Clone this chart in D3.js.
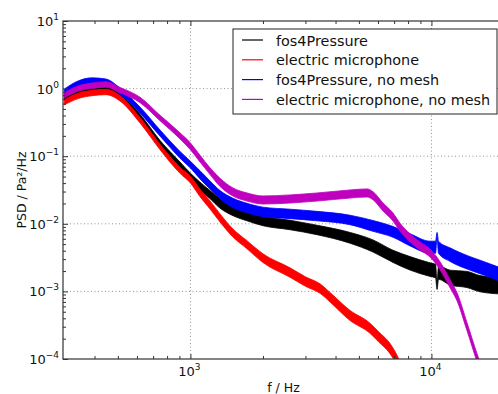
<!DOCTYPE html>
<html>
<head>
<meta charset="utf-8">
<script src="https://cdn.jsdelivr.net/npm/d3@7"></script>
<style>
  body { margin: 0; background: #fff; }
  text { font-family: "DejaVu Sans", sans-serif; fill: #111; }
</style>
</head>
<body>
<svg id="chart" width="498" height="394"></svg>
<script>
// series labels and colours (matplotlib k, r, b, m)
const seriesNames = ["fos4Pressure", "electric microphone", "fos4Pressure, no mesh", "electric microphone, no mesh"];
const seriesColors = ["#000000", "#ff0000", "#0000ff", "#bf00bf"];

// fos4Pressure: frequency (Hz), PSD (Pa²/Hz), noise half-width (decades)
const fosFreq = [300, 342, 390, 446, 510, 618, 748, 905, 1000, 1096, 1206, 1327, 1502, 1717, 2000, 2590, 3352, 4595, 5722, 6927, 8150, 9865, 10400, 10550, 10700, 11944, 14050, 15910, 20000];
const fosPsd = [0.75, 0.89, 1.0, 0.99, 0.75, 0.38, 0.156, 0.074, 0.05, 0.036, 0.027, 0.02, 0.0155, 0.013, 0.011, 0.0096, 0.0081, 0.0062, 0.0047, 0.0033, 0.0026, 0.0021, 0.002, 0.0012, 0.0019, 0.0016, 0.0015, 0.0013, 0.0012];
const fosNoise = [0.04, 0.04, 0.04, 0.04, 0.04, 0.04, 0.04, 0.045, 0.05, 0.06, 0.06, 0.07, 0.07, 0.07, 0.07, 0.07, 0.07, 0.08, 0.09, 0.09, 0.1, 0.1, 0.1, 0.05, 0.1, 0.11, 0.12, 0.12, 0.12];

// electric microphone
const micFreq = [300, 342, 390, 446, 510, 618, 748, 905, 1000, 1096, 1206, 1327, 1502, 1717, 2000, 2590, 3000, 3450, 3795, 4595, 5530, 6060, 6660, 7110, 7500];
const micPsd = [0.63, 0.78, 0.86, 0.89, 0.72, 0.34, 0.137, 0.062, 0.045, 0.0286, 0.019, 0.0122, 0.0073, 0.0049, 0.0031, 0.0019, 0.0014, 0.0011, 0.00082, 0.00044, 0.00029, 0.00021, 0.00015, 0.000104, 0.00007];
const micNoise = [0.04, 0.04, 0.04, 0.04, 0.04, 0.04, 0.04, 0.045, 0.05, 0.055, 0.06, 0.06, 0.06, 0.06, 0.065, 0.07, 0.07, 0.07, 0.07, 0.075, 0.075, 0.075, 0.075, 0.075, 0.075];

// fos4Pressure, no mesh
const fosNmFreq = [300, 342, 390, 446, 510, 618, 748, 905, 1000, 1096, 1206, 1327, 1502, 1717, 2000, 2590, 3352, 4595, 5722, 6927, 8150, 9865, 10400, 10550, 10700, 11944, 14050, 15910, 20000];
const fosNmPsd = [0.89, 1.17, 1.3, 1.25, 0.92, 0.48, 0.22, 0.105, 0.075, 0.053, 0.0375, 0.027, 0.0203, 0.0171, 0.015, 0.014, 0.013, 0.0114, 0.0093, 0.0076, 0.0058, 0.0045, 0.0045, 0.0068, 0.0045, 0.0035, 0.0027, 0.0023, 0.0017];
const fosNmNoise = [0.045, 0.045, 0.045, 0.045, 0.045, 0.045, 0.045, 0.05, 0.05, 0.06, 0.06, 0.06, 0.07, 0.07, 0.07, 0.07, 0.07, 0.07, 0.08, 0.08, 0.09, 0.09, 0.09, 0.04, 0.09, 0.1, 0.1, 0.1, 0.1];

// electric microphone, no mesh
const micNmFreq = [300, 342, 390, 446, 510, 618, 748, 905, 1000, 1096, 1206, 1327, 1502, 1717, 2000, 2590, 3352, 4595, 5404, 5722, 6297, 6927, 7406, 8150, 8968, 9865, 10854, 11944, 12771, 14050, 15460, 16220];
const micNmPsd = [0.80, 1.0, 1.1, 1.15, 0.95, 0.68, 0.367, 0.2, 0.14, 0.092, 0.06, 0.041, 0.0295, 0.0249, 0.0225, 0.0233, 0.0249, 0.0276, 0.0286, 0.026, 0.0177, 0.0126, 0.0089, 0.0062, 0.0047, 0.0037, 0.0024, 0.0013, 0.00083, 0.0003, 0.000104, 0.000064];
const micNmNoise = [0.04, 0.04, 0.04, 0.04, 0.04, 0.04, 0.04, 0.045, 0.05, 0.05, 0.05, 0.06, 0.06, 0.06, 0.06, 0.06, 0.06, 0.06, 0.06, 0.06, 0.06, 0.06, 0.06, 0.06, 0.06, 0.06, 0.06, 0.06, 0.06, 0.06, 0.06, 0.06];

// ticks
const xMajor = [1e3, 1e4];
const xMajorExp = ["3", "4"];
const xMinor = [400, 500, 600, 700, 800, 900, 2000, 3000, 4000, 5000, 6000, 7000, 8000, 9000, 20000];
const yMajor = [1e-4, 1e-3, 1e-2, 1e-1, 1e0, 1e1];
const yMajorExp = ["\u22124", "\u22123", "\u22122", "\u22121", "0", "1"];
const yMinor = [];
yMajor.slice(0, -1).forEach(d => [2, 3, 4, 5, 6, 7, 8, 9].forEach(k => yMinor.push(d * k)));

const plot = { left: 63, right: 504, top: 21, bottom: 359 };

const svg = d3.select("#chart");

const x = d3.scaleLog().domain([296, 20000]).range([plot.left, plot.right]);
const y = d3.scaleLog().domain([1e-4, 10]).range([plot.bottom, plot.top]);

svg.append("defs").append("clipPath").attr("id", "clip")
  .append("rect")
  .attr("x", plot.left).attr("y", plot.top)
  .attr("width", plot.right - plot.left).attr("height", plot.bottom - plot.top);

// grid
const grid = svg.append("g")
  .attr("stroke", "#777")
  .attr("stroke-width", 0.8)
  .attr("stroke-dasharray", "1,2.5");

grid.selectAll("line.gx")
  .data(xMajor)
  .enter()
  .append("line")
  .attr("x1", d => x(d)).attr("x2", d => x(d))
  .attr("y1", plot.top).attr("y2", plot.bottom);

grid.selectAll("line.gy")
  .data(yMajor.slice(1, -1))
  .enter()
  .append("line")
  .attr("x1", plot.left).attr("x2", plot.right)
  .attr("y1", d => y(d)).attr("y2", d => y(d));

// series bands
const series = [
  { f: fosFreq, v: fosPsd, n: fosNoise },
  { f: micFreq, v: micPsd, n: micNoise },
  { f: fosNmFreq, v: fosNmPsd, n: fosNmNoise },
  { f: micNmFreq, v: micNmPsd, n: micNmNoise }
];

const area = d3.area()
  .x(d => x(d.f))
  .y0(d => y(d.v / Math.pow(10, d.n)))
  .y1(d => y(d.v * Math.pow(10, d.n)))
  .curve(d3.curveMonotoneX);

const bands = svg.append("g").attr("clip-path", "url(#clip)");

series.forEach((s, i) => {
  const pts = s.f.map((f, j) => ({ f: f, v: s.v[j], n: s.n[j] }));
  bands.append("path")
    .datum(pts)
    .attr("d", area)
    .attr("fill", seriesColors[i])
    .attr("stroke", seriesColors[i])
    .attr("stroke-width", 0.8);
});

// ticks, pointing inwards on every side
function ticks(axis, values, size, transform) {
  svg.append("g")
    .attr("transform", transform)
    .call(axis.tickValues(values).tickSize(-size).tickFormat(""))
    .call(g => g.select(".domain").remove())
    .selectAll("line").attr("stroke", "#333");
}
ticks(d3.axisBottom(x), xMinor, 3, `translate(0,${plot.bottom})`);
ticks(d3.axisBottom(x), xMajor, 5, `translate(0,${plot.bottom})`);
ticks(d3.axisTop(x), xMinor, 3, `translate(0,${plot.top})`);
ticks(d3.axisTop(x), xMajor, 5, `translate(0,${plot.top})`);
ticks(d3.axisLeft(y), yMinor, 3, `translate(${plot.left},0)`);
ticks(d3.axisLeft(y), yMajor, 5, `translate(${plot.left},0)`);

// frame
svg.append("rect")
  .attr("x", plot.left).attr("y", plot.top)
  .attr("width", plot.right - plot.left).attr("height", plot.bottom - plot.top)
  .attr("fill", "none")
  .attr("stroke", "#333")
  .attr("stroke-width", 1.2);

// tick labels
svg.selectAll("text.xt")
  .data(xMajor)
  .enter()
  .append("text")
  .attr("x", d => x(d) - 1)
  .attr("y", plot.bottom + 17)
  .attr("text-anchor", "middle")
  .attr("font-size", 13)
  .each(function (d, i) {
    const t = d3.select(this);
    t.append("tspan").text("10");
    t.append("tspan").attr("font-size", 9).attr("dy", -6).text(xMajorExp[i]);
  });

svg.selectAll("text.yt")
  .data(yMajor)
  .enter()
  .append("text")
  .attr("x", plot.left - 4)
  .attr("y", d => y(d) + 5)
  .attr("text-anchor", "end")
  .attr("font-size", 13)
  .each(function (d, i) {
    const t = d3.select(this);
    t.append("tspan").text("10");
    t.append("tspan").attr("font-size", 9).attr("dy", -6).text(yMajorExp[i]);
  });

// axis labels
svg.append("text")
  .attr("x", (plot.left + plot.right) / 2)
  .attr("y", 392)
  .attr("text-anchor", "middle")
  .attr("font-size", 12.5)
  .text("f / Hz");

svg.append("text")
  .attr("transform", `translate(26,${(plot.top + plot.bottom) / 2}) rotate(-90)`)
  .attr("text-anchor", "middle")
  .attr("font-size", 12.5)
  .text("PSD / Pa\u00b2/Hz");

// legend
const legend = svg.append("g");
legend.append("rect")
  .attr("x", 233).attr("y", 29)
  .attr("width", 264).attr("height", 85)
  .attr("fill", "#fff")
  .attr("stroke", "#222")
  .attr("stroke-width", 1);

seriesNames.forEach((name, i) => {
  const ly = 40 + i * 19.8;
  legend.append("line")
    .attr("x1", 242).attr("x2", 263)
    .attr("y1", ly).attr("y2", ly)
    .attr("stroke", seriesColors[i])
    .attr("stroke-width", 1.2);
  legend.append("text")
    .attr("x", 276)
    .attr("y", ly + 5.5)
    .attr("font-size", 14.4)
    .text(name);
});
</script>
</body>
</html>
